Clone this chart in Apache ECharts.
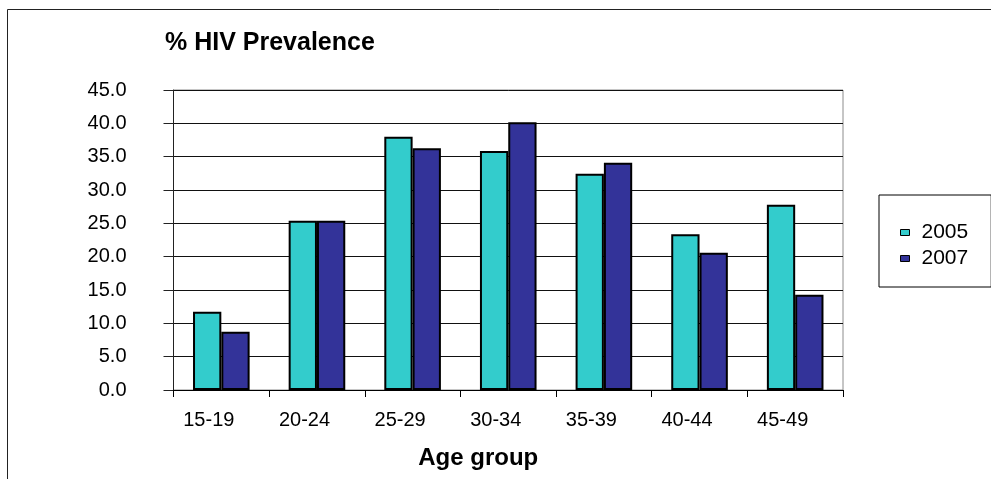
<!DOCTYPE html>
<html>
<head>
<meta charset="utf-8">
<script src="https://cdn.jsdelivr.net/npm/echarts@6/dist/echarts.min.js"></script>
<style>
html,body{margin:0;padding:0;background:#fff;}
#chart{width:991px;height:479px;}
</style>
</head>
<body>
<div id="chart"></div>
<script>
var categories = ['15-19','20-24','25-29','30-34','35-39','40-44','45-49'];
var values2005 = [11.75, 25.4, 38.0, 35.85, 32.45, 23.35, 27.8];
var values2007 = [8.75, 25.4, 36.25, 40.15, 34.1, 20.6, 14.3];
var seriesNames = ['2005', '2007'];
var titleText = '% HIV Prevalence';
var xAxisName = 'Age group';

var FONT = '"Liberation Sans", Arial, sans-serif';
var chart = echarts.init(document.getElementById('chart'), null, {renderer:'canvas'});
chart.setOption({
  animation: false,
  backgroundColor: '#ffffff',
  title: {
    text: titleText, left: 160, top: 26,
    textStyle: {fontSize: 25, fontWeight: 'bold', color: '#000', fontFamily: FONT}
  },
  legend: {
    orient: 'vertical', left: 879, top: 195,
    padding: [27, 23, 18, 21],
    borderColor: '#000', borderWidth: 1,
    itemWidth: 9, itemHeight: 6, itemGap: 5,
    icon: 'rect',
    itemStyle: {borderColor: '#000', borderWidth: 1},
    textStyle: {fontSize: 21, color: '#000', fontFamily: FONT, padding: [0, 0, 0, 7]},
    data: seriesNames
  },
  grid: {left: 173.5, top: 90, right: 148, bottom: 89, show: true, borderColor: '#8c8c8c', borderWidth: 1, containLabel: false},
  xAxis: {
    type: 'category', data: categories,
    boundaryGap: true,
    name: xAxisName, nameLocation: 'middle', nameGap: 56,
    nameTextStyle: {fontSize: 24, fontWeight: 'bold', color: '#000', fontFamily: FONT, padding: [0, 60, 0, 0]},
    axisLine: {lineStyle: {color: '#000', width: 1}},
    axisTick: {show: true, inside: false, length: 7, alignWithLabel: false, lineStyle: {color: '#000'}},
    axisLabel: {fontSize: 20, color: '#000', fontFamily: FONT, margin: 20, padding: [0, 25, 0, 0]},
    splitLine: {show: false}
  },
  yAxis: {
    type: 'value', min: 0, max: 45, interval: 5,
    axisLine: {show: true, lineStyle: {color: '#222', width: 1}},
    axisTick: {show: true, inside: false, length: 10, lineStyle: {color: '#222'}},
    axisLabel: {fontSize: 20, color: '#000', fontFamily: FONT, margin: 47, formatter: function(v){return v.toFixed(1);}},
    splitLine: {show: true, lineStyle: {color: '#111', width: 1}}
  },
  series: [
    {name: seriesNames[0], type: 'bar', data: values2005, barWidth: 28.3, barGap: '0%',
     itemStyle: {color: '#33CCCC', borderColor: '#000', borderWidth: 2}},
    {name: seriesNames[1], type: 'bar', data: values2007, barWidth: 28.3, barGap: '0%',
     itemStyle: {color: '#333399', borderColor: '#000', borderWidth: 2}}
  ],
  graphic: [
    {type: 'rect', shape: {x: 7.5, y: 9.5, width: 1100, height: 600}, silent: true, z: -10,
     style: {fill: null, stroke: '#222', lineWidth: 1}}
  ]
});
</script>
</body>
</html>
